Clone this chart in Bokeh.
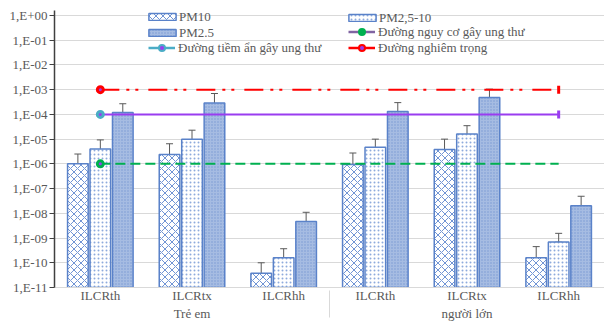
from bokeh.plotting import figure
from bokeh.models import (ColumnDataSource, FactorRange, Range1d, FixedTicker,
                          CustomJSTickFormatter, Whisker, TeeHead, Legend, LegendItem)
from bokeh.transform import dodge
from bokeh.embed import file_html
from bokeh.resources import INLINE

# ---------------- data ----------------
groups = ["Trẻ em", "người lớn"]
metrics = ["ILCRth", "ILCRtx", "ILCRhh"]

pm10 = [1.0e-6, 2.4e-6, 3.8e-11, 9.5e-7, 3.8e-6, 1.6e-10]
pm10_hi = [2.5e-6, 6.5e-6, 1.0e-10, 2.75e-6, 1.0e-5, 4.5e-10]
pm10_lo = [3.4e-7, 7.8e-7, 1.35e-11, 3.5e-7, 1.2e-6, 5.2e-11]

pm25_10 = [4.0e-6, 1.0e-5, 1.6e-10, 4.7e-6, 1.6e-5, 7.0e-10]
pm25_10_hi = [9.3e-6, 2.3e-5, 3.7e-10, 1.0e-5, 3.5e-5, 1.55e-9]
pm25_10_lo = [3.0e-6, 5.2e-6, 7.0e-11, 4.4e-6, 8.0e-6, 6.8e-10]

pm25 = [1.2e-4, 2.9e-4, 4.7e-9, 1.3e-4, 4.8e-4, 2.0e-8]
pm25_hi = [2.7e-4, 7.0e-4, 1.1e-8, 3.0e-4, 1.05e-3, 4.9e-8]
pm25_lo = [5.4e-5, 1.25e-4, 2.0e-9, 5.6e-5, 2.0e-4, 9.1e-9]

line_severe = 1e-3      # Đường nghiêm trọng
line_potential = 1e-4   # Đường tiềm ẩn gây ung thư
line_risk = 1e-6        # Đường nguy cơ gây ung thư

y_ticks = [1e0, 1e-1, 1e-2, 1e-3, 1e-4, 1e-5, 1e-6, 1e-7, 1e-8, 1e-9, 1e-10, 1e-11]
y_tick_labels = ["1,E+00", "1,E-01", "1,E-02", "1,E-03", "1,E-04", "1,E-05",
                 "1,E-06", "1,E-07", "1,E-08", "1,E-09", "1,E-10", "1,E-11"]

# ---------------- styles ----------------
FONT = "Liberation Serif"
TXT = "#595959"
BAR_LINE = "#5a82c9"
RED = "#ff0000"
PURPLE = "#9a3cf0"
CYAN = "#4bacc6"
GREEN = "#00b050"
GRID = "#d9d9d9"

W, H = 604, 325
TOP, BOTTOM, LEFT = 10, 38, 54
FH = H - TOP - BOTTOM  # frame height
HEADROOM = 5           # px of frame above the 1,E+00 gridline (room for legend)
extra_dec = HEADROOM * 11.0 / (FH - HEADROOM)

cats = [(g, m) for g in groups for m in metrics]

p = figure(width=W, height=H, x_range=FactorRange(*cats, factor_padding=0,
           group_padding=0, range_padding=0), y_range=Range1d(1e-11, 10 ** extra_dec),
           y_axis_type="log", output_backend="svg", toolbar_location=None,
           min_border_left=LEFT, min_border_right=0, min_border_top=TOP,
           min_border_bottom=BOTTOM)
p.outline_line_color = None
p.xgrid.grid_line_color = None
p.ygrid.grid_line_color = GRID
p.ygrid.grid_line_width = 1

ticker = FixedTicker(ticks=y_ticks)
p.yaxis.ticker = ticker
p.ygrid.ticker = ticker
p.yaxis.formatter = CustomJSTickFormatter(args=dict(tv=y_ticks, lbl=y_tick_labels), code="""
let best = 0, bd = Infinity;
for (let i = 0; i < tv.length; i++) {
  const d = Math.abs(Math.log10(tv[i]) - Math.log10(tick));
  if (d < bd) { bd = d; best = i; }
}
return lbl[best];
""")
p.yaxis.axis_line_color = "#404040"
p.yaxis.axis_line_width = 1.5
p.yaxis.major_tick_line_color = "#404040"
p.yaxis.major_tick_out = 5
p.yaxis.major_tick_in = 0
p.yaxis.minor_tick_line_color = None
p.yaxis.major_label_standoff = 2
p.yaxis.major_label_text_font = FONT
p.yaxis.major_label_text_font_size = "13px"
p.yaxis.major_label_text_color = TXT

p.xaxis.axis_line_color = GRID
p.xaxis.major_tick_line_color = None
p.xaxis.major_tick_out = 0
p.xaxis.major_tick_in = 0
p.xaxis.minor_tick_line_color = None
p.xaxis.minor_tick_out = 0
p.xaxis.major_label_text_font = FONT
p.xaxis.major_label_text_font_size = "13px"
p.xaxis.major_label_text_color = TXT
p.xaxis.major_label_standoff = 0
p.xaxis.group_text_font = FONT
p.xaxis.group_text_font_size = "13px"
p.xaxis.group_text_font_style = "normal"
p.xaxis.group_text_color = TXT
p.xaxis.separator_line_color = GRID
p.xaxis.separator_line_width = 1

src = ColumnDataSource(dict(x=cats, pm10=pm10, pm10_hi=pm10_hi, pm10_lo=pm10_lo,
                            pm25_10=pm25_10, pm25_10_hi=pm25_10_hi, pm25_10_lo=pm25_10_lo,
                            pm25=pm25, pm25_hi=pm25_hi, pm25_lo=pm25_lo))

BW = 0.225
offs = [-0.245, 0.0, 0.245]
r10 = p.vbar(x=dodge("x", offs[0], range=p.x_range), top="pm10", bottom=1e-11, width=BW,
             source=src, fill_color="white", line_color=BAR_LINE, line_width=1.5,
             hatch_pattern="diagonal_cross", hatch_color="#7094d4", hatch_scale=7, hatch_weight=1)
r2510 = p.vbar(x=dodge("x", offs[1], range=p.x_range), top="pm25_10", bottom=1e-11, width=BW,
               source=src, fill_color="white", line_color=BAR_LINE, line_width=1.5,
               hatch_pattern="dot", hatch_color="#8eaadc", hatch_scale=4, hatch_weight=1)
r25 = p.vbar(x=dodge("x", offs[2], range=p.x_range), top="pm25", bottom=1e-11, width=BW,
             source=src, fill_color="#a6bce2", line_color=BAR_LINE, line_width=1.5,
             hatch_pattern="dot", hatch_color="#7898d2", hatch_scale=3, hatch_weight=1)

for off, key in zip(offs, ["pm10", "pm25_10", "pm25"]):
    w = Whisker(source=src, base=dodge("x", off, range=p.x_range), upper=key + "_hi",
                lower=key + "_lo", line_color="#595959", line_width=1,
                upper_head=TeeHead(size=7, line_color="#595959", line_width=1),
                lower_head=TeeHead(size=7, line_color="#595959", line_width=1))
    p.add_layout(w)

# threshold lines
xs = [cats[0], cats[-1]]
p.line(x=xs, y=[line_severe] * 2, line_color=RED, line_width=2, line_dash="19 7 3 6 3 10")
p.line(x=xs, y=[line_potential] * 2, line_color=PURPLE, line_width=2)
p.line(x=xs, y=[line_risk] * 2, line_color=GREEN, line_width=2, line_dash="10 5")

p.rect(x=[cats[-1]], y=[line_severe], width=3, height=8, width_units="screen",
       height_units="screen", fill_color=RED, line_color=None)
p.rect(x=[cats[-1]], y=[line_potential], width=3, height=8, width_units="screen",
       height_units="screen", fill_color=PURPLE, line_color=None)

for val, col in [(line_severe, RED), (line_potential, CYAN), (line_risk, GREEN)]:
    p.scatter(x=[cats[0]], y=[val], marker="circle", size=6, fill_color=PURPLE,
              line_color=col, line_width=3)

# legend proxies (renderers with an undrawable point, carrying legend styling)
nan = float("nan")
px, py = [cats[0]], [nan]
lg_pot_l = p.line(x=px, y=py, line_color=CYAN, line_width=2.5)
lg_pot_m = p.scatter(x=px, y=py, marker="circle", size=6, fill_color=PURPLE, line_color=CYAN, line_width=2)
lg_risk_l = p.line(x=px, y=py, line_color="#8064a2", line_width=2.5)
lg_risk_m = p.scatter(x=px, y=py, marker="circle", size=6, fill_color=GREEN, line_color=GREEN, line_width=2)
lg_sev_l = p.line(x=px, y=py, line_color=RED, line_width=2.5)
lg_sev_m = p.scatter(x=px, y=py, marker="circle", size=6, fill_color=PURPLE, line_color=RED, line_width=2)


def mk_legend(items, loc, gw, gh, standoff):
    lg = Legend(items=items, location=loc, orientation="vertical", padding=0, margin=0,
                spacing=0, glyph_width=gw, glyph_height=gh, label_height=15,
                label_standoff=standoff, border_line_color=None, background_fill_alpha=0,
                label_text_font=FONT, label_text_font_size="13px", label_text_color=TXT)
    p.add_layout(lg, "center")
    return lg


mk_legend([LegendItem(label="PM10", renderers=[r10]),
           LegendItem(label="PM2.5", renderers=[r25])], (91, FH - 30.5), 34, 9, 0)
mk_legend([LegendItem(label="PM2,5-10", renderers=[r2510])], (291, FH - 15.5), 34, 9, 0)
mk_legend([LegendItem(label="Đường tiềm ẩn gây ung thư", renderers=[lg_pot_l, lg_pot_m])],
          (94, FH - 45.5), 27, 15, 3)
mk_legend([LegendItem(label="Đường nguy cơ gây ung thư", renderers=[lg_risk_l, lg_risk_m]),
           LegendItem(label="Đường nghiêm trọng", renderers=[lg_sev_l, lg_sev_m])],
          (294, FH - 45.5), 27, 15, 3)

open("out.html", "w").write(file_html(p, INLINE))
